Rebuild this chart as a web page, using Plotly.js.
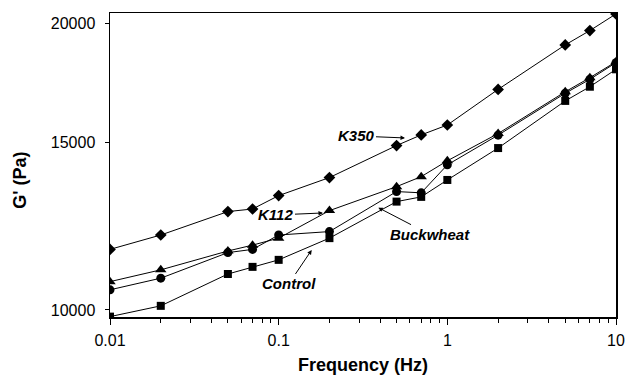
<!DOCTYPE html>
<html>
<head>
<meta charset="utf-8">
<script src="https://cdn.plot.ly/plotly-3.0.1.min.js"></script>
<style>html,body{margin:0;padding:0;background:#fff;}#chart{width:626px;height:375px;}</style>
</head>
<body>
<div id="chart"></div>
<script>
// Frequency (Hz)
var frequency = [0.01, 0.02, 0.05, 0.07, 0.1, 0.2, 0.5, 0.7, 1, 2, 5, 7, 10];
// G' (Pa) per sample
var k350      = [11580, 11990, 12690, 12770, 13190, 13780, 14890, 15280, 15650, 17060, 19000, 19670, 20480];
var k112      = [10710, 11020, 11535, 11700, 11900, 12720, 13480, 13810, 14350, 15330, 16960, 17550, 18240];
var buckwheat = [10500, 10800, 11490, 11580, 11990, 12090, 13320, 13280, 14210, 15270, 16900, 17480, 18200];
var control   = [9840, 10100, 10910, 11100, 11290, 11900, 13000, 13150, 13700, 14800, 16590, 17170, 17910];

var xTickVals = [0.01, 0.1, 1, 10];
var xTickText = ['0.01', '0.1', '1', '10'];
var xMinorTickVals = [0.02, 0.03, 0.04, 0.05, 0.06, 0.07, 0.08, 0.09,
                      0.2, 0.3, 0.4, 0.5, 0.6, 0.7, 0.8, 0.9,
                      2, 3, 4, 5, 6, 7, 8, 9];
var yTickVals = [10000, 15000, 20000];
var yTickText = ['10000', '15000', '20000'];

var seriesNames = ['K350', 'K112', 'Buckwheat', 'Control'];
var seriesData = [k350, k112, buckwheat, control];
var seriesSymbols = ['diamond', 'triangle-up', 'circle', 'square'];
var seriesSizes = [9, 10, 9, 8];

var FONT = 'Liberation Sans, Arial, Helvetica, sans-serif';

var traces = seriesData.map(function (ys, i) {
  return {
    x: frequency,
    y: ys,
    name: seriesNames[i],
    type: 'scatter',
    mode: 'lines+markers',
    line: {color: '#000', width: 1},
    marker: {symbol: seriesSymbols[i], size: seriesSizes[i], color: '#000'},
    showlegend: false,
    hoverinfo: 'x+y+name'
  };
});

function label(text, xl, yl, ax, ay) {
  return {
    text: '<b><i>' + text + '</i></b>',
    x: xl, y: yl, xref: 'x', yref: 'y',
    ax: ax, ay: ay,
    showarrow: true, arrowhead: 2, arrowsize: 0.9, arrowwidth: 1, arrowcolor: '#000',
    font: {family: FONT, size: 15, color: '#000'}
  };
}

var layout = {
  width: 626, height: 375,
  margin: {l: 110, r: 10, t: 13, b: 58},
  paper_bgcolor: '#fff', plot_bgcolor: '#fff',
  font: {family: FONT, color: '#000'},
  xaxis: {
    type: 'log', range: [-2, 1], autorange: false,
    tickmode: 'array', tickvals: xTickVals, ticktext: xTickText,
    ticks: 'outside', ticklen: 6, tickwidth: 1, tickcolor: '#000',
    minor: {tickmode: 'array', tickvals: xMinorTickVals, ticks: 'outside', ticklen: 4, tickwidth: 1, tickcolor: '#000', showgrid: false},
    showline: true, linecolor: '#000', linewidth: 1.5, mirror: true,
    showgrid: false, zeroline: false,
    tickfont: {family: FONT, size: 16, color: '#000'},
    ticklabelstandoff: 2,
    automargin: false,
    title: {text: '<b>Frequency (Hz)</b>', font: {family: FONT, size: 18, color: '#000'}, standoff: 11}
  },
  yaxis: {
    type: 'log', range: [3.9926, 4.3123], autorange: false,
    tickmode: 'array', tickvals: yTickVals, ticktext: yTickText,
    ticks: 'outside', ticklen: 4, tickwidth: 1, tickcolor: '#000',
    showline: true, linecolor: '#000', linewidth: 1.5, mirror: true,
    showgrid: false, zeroline: false,
    tickfont: {family: FONT, size: 16, color: '#000'},
    ticklabelstandoff: 6,
    automargin: false
  },
  annotations: [
    {
      text: "<b>G' (Pa)</b>", textangle: -90,
      xref: 'paper', yref: 'paper', x: -0.178, y: 0.451,
      xanchor: 'center', yanchor: 'middle', showarrow: false,
      font: {family: FONT, size: 18, color: '#000'}
    },
    label('K350', -0.251, 4.1809, -49, -2),
    label('K112', -0.7372, 4.102, -47, 2),
    label('Buckwheat', -0.4093, 4.1076, 52, 27),
    label('Control', -0.8042, 4.0631, -23, 34)
  ]
};

Plotly.newPlot('chart', traces, layout, {displayModeBar: false, staticPlot: true});
</script>
</body>
</html>
